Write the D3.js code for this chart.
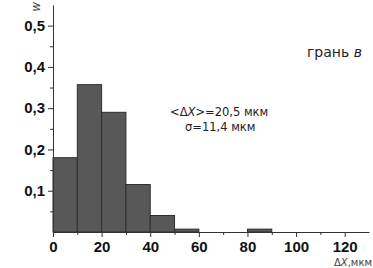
<!DOCTYPE html>
<html>
<head>
<meta charset="utf-8">
<script src="https://cdn.jsdelivr.net/npm/d3@7"></script>
<style>
  body { margin: 0; background: #fff; }
  svg { display: block; font-family: "Liberation Sans", Arial, sans-serif; }
</style>
</head>
<body>
<svg id="chart" width="373" height="268"></svg>
<script>
// bin edges (мкм) and relative frequencies w
const binStarts = [0, 10, 20, 30, 40, 50, 80];
const binWidth = 10;
const freqs = [0.180, 0.357, 0.290, 0.115, 0.040, 0.007, 0.007];
const xTicks = [0, 20, 40, 60, 80, 100, 120];
const yTicks = [0.1, 0.2, 0.3, 0.4, 0.5];

const bins = binStarts.map((s, i) => ({ x0: s, x1: s + binWidth, w: freqs[i] }));

const svg = d3.select("#chart");
const margin = { left: 53, top: 5, right: 4, bottom: 36 };
const width = 373, height = 268;

const x = d3.scaleLinear().domain([0, 130]).range([margin.left, width - margin.right]);
const y = d3.scaleLinear().domain([0, 0.55]).range([height - margin.bottom, margin.top]);

const comma = d => d3.format(".1f")(d).replace(".", ",");

// bars
svg.append("g")
  .selectAll("rect")
  .data(bins)
  .join("rect")
  .attr("x", d => x(d.x0))
  .attr("y", d => y(d.w))
  .attr("width", d => x(d.x1) - x(d.x0))
  .attr("height", d => y(0) - y(d.w))
  .attr("fill", "#585858")
  .attr("stroke", "#2e2e2e")
  .attr("stroke-width", 1);

// minor ticks
svg.append("g")
  .attr("transform", `translate(0,${y(0)})`)
  .call(d3.axisBottom(x).tickValues(d3.range(10, 130, 20)).tickSize(3).tickFormat(""))
  .call(g => g.select(".domain").remove());

svg.append("g")
  .attr("transform", `translate(${x(0)},0)`)
  .call(d3.axisLeft(y).tickValues(d3.range(0.05, 0.55, 0.1)).tickSize(3).tickFormat(""))
  .call(g => g.select(".domain").remove());

// x axis
svg.append("g")
  .attr("transform", `translate(0,${y(0)})`)
  .call(d3.axisBottom(x).tickValues(xTicks).tickSize(5).tickSizeOuter(0).tickPadding(4))
  .call(g => g.selectAll("text")
    .style("font-size", "15px")
    .style("font-weight", "bold")
    .attr("fill", "#111"));

// y axis
svg.append("g")
  .attr("transform", `translate(${x(0)},0)`)
  .call(d3.axisLeft(y).tickValues(yTicks).tickSize(5).tickSizeOuter(0).tickPadding(3).tickFormat(comma))
  .call(g => g.selectAll("text")
    .style("font-size", "15px")
    .style("font-weight", "bold")
    .attr("fill", "#111"));

svg.selectAll(".domain, .tick line").attr("stroke", "#333");

// y label
svg.append("text")
  .attr("transform", `translate(40,${margin.top + 2}) rotate(-90)`)
  .attr("text-anchor", "middle")
  .style("font-size", "12px")
  .style("font-style", "italic")
  .attr("fill", "#333")
  .text("w");

// x label
const xl = svg.append("text")
  .attr("x", width - 1)
  .attr("y", 266)
  .attr("text-anchor", "end")
  .style("font-size", "10px")
  .style("font-family", "'DejaVu Sans', sans-serif")
  .attr("fill", "#444");
xl.append("tspan").text("Δ");
xl.append("tspan").style("font-style", "italic").text("X");
xl.append("tspan").text(",мкм");

// face label
const face = svg.append("text")
  .attr("x", 307)
  .attr("y", 57)
  .style("font-size", "14px")
  .style("font-family", "'DejaVu Sans', sans-serif")
  .attr("fill", "#222");
face.append("tspan").text("грань ");
face.append("tspan").style("font-style", "italic").text("в");

// stats
const st = svg.append("text")
  .attr("x", 170)
  .attr("y", 116)
  .style("font-size", "11.5px")
  .style("font-family", "'DejaVu Sans', sans-serif")
  .attr("fill", "#222");
st.append("tspan").text("<Δ");
st.append("tspan").style("font-style", "italic").text("X");
st.append("tspan").text(">=20,5 мкм");

svg.append("text")
  .attr("x", 185)
  .attr("y", 131)
  .style("font-size", "11.5px")
  .style("font-family", "'DejaVu Sans', sans-serif")
  .attr("fill", "#222")
  .text("σ=11,4 мкм");
</script>
</body>
</html>
